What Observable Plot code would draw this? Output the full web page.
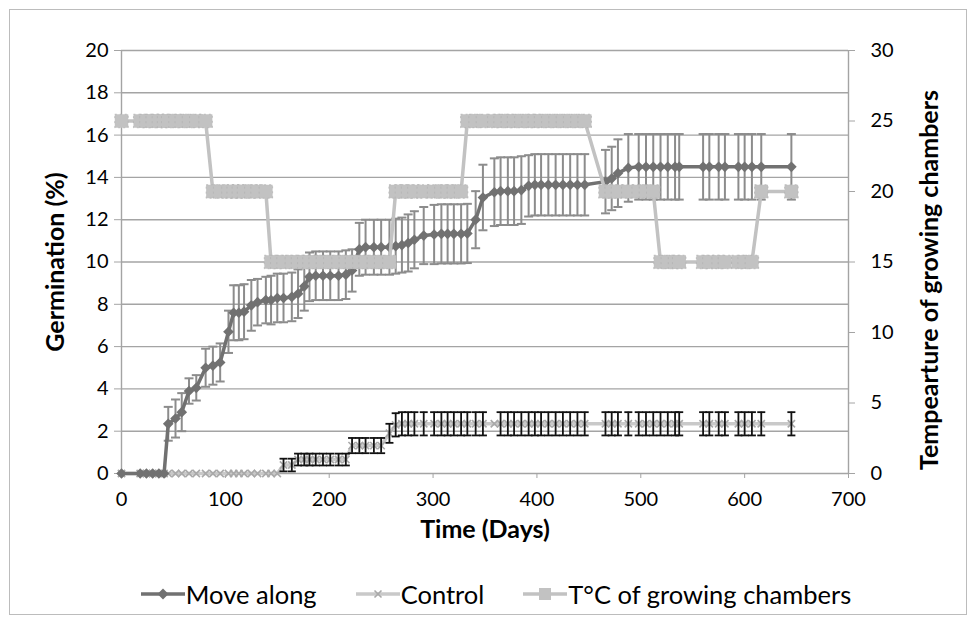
<!DOCTYPE html>
<html>
<head>
<meta charset="utf-8">
<script src="https://cdn.jsdelivr.net/npm/d3@7"></script>
<script src="https://cdn.jsdelivr.net/npm/@observablehq/plot@0.6"></script>
<style>
  html, body { margin: 0; padding: 0; background: #ffffff; }
  body { width: 976px; height: 624px; position: relative; overflow: hidden; font-family: Lato, "Open Sans", sans-serif; }
  #frame { position: absolute; left: 9px; top: 9px; width: 958px; height: 606px; border: 1px solid #bcbcbc; box-sizing: border-box; }
  #chart { position: absolute; left: 0; top: 0; }
  #legend { position: absolute; left: 8px; top: 577px; width: 976px; height: 34px; display: flex; justify-content: center; align-items: center; gap: 39px; font-size: 25.5px; color: #000; }
  .item { display: flex; align-items: center; }
  .item svg { margin-right: 1px; }
</style>
</head>
<body>
<div id="frame"></div>
<div id="chart"></div>
<div id="legend"></div>
<script>
// ---- data ----
const days = [
  0, 18, 24, 30, 36, 41, 45, 52, 58, 65,
  72, 81, 88, 95, 103, 108, 113, 118, 125, 131,
  139, 144, 150, 156, 164, 170, 176, 181, 187, 194,
  201, 209, 216, 222, 229, 235, 243, 250, 258, 264,
  270, 276, 282, 291, 301, 308, 314, 320, 327, 333,
  341, 348, 359, 365, 372, 378, 385, 392, 398, 404,
  411, 418, 425, 432, 439, 446, 466, 472, 478, 488,
  498, 505, 512, 519, 526, 533, 537, 560, 566, 575,
  581, 594, 600, 607, 616, 645
];
const moveAlong = [
  0, 0, 0, 0, 0, 0, 2.35, 2.6, 2.9, 3.9,
  4.05, 5.0, 5.1, 5.25, 6.7, 7.6, 7.6, 7.65, 7.95, 8.1,
  8.2, 8.2, 8.3, 8.3, 8.35, 8.5, 8.85, 9.3, 9.35, 9.35,
  9.35, 9.35, 9.4, 9.6, 10.6, 10.7, 10.7, 10.7, 10.7, 10.75,
  10.8, 10.9, 11.05, 11.25, 11.3, 11.33, 11.33, 11.33, 11.33, 11.35,
  12.0, 13.05, 13.3, 13.35, 13.35, 13.35, 13.4, 13.6, 13.65, 13.65,
  13.65, 13.65, 13.65, 13.65, 13.65, 13.65, 13.8, 13.95, 14.2, 14.45,
  14.5, 14.5, 14.5, 14.5, 14.5, 14.5, 14.5, 14.5, 14.5, 14.5,
  14.5, 14.5, 14.5, 14.5, 14.5, 14.5
];
const moveAlongErr = [
  0, 0, 0, 0, 0, 0, 0.8, 0.9, 0.9, 0.6,
  0.6, 0.9, 0.9, 0.9, 1.0, 1.3, 1.3, 1.3, 1.2, 1.1,
  1.1, 1.15, 1.15, 1.15, 1.15, 1.15, 1.15, 1.15, 1.15, 1.15,
  1.15, 1.15, 1.15, 1.0, 1.25, 1.3, 1.3, 1.3, 1.3, 1.3,
  1.3, 1.35, 1.35, 1.35, 1.4, 1.4, 1.4, 1.4, 1.4, 1.4,
  1.35, 1.55, 1.6, 1.6, 1.6, 1.6, 1.6, 1.45, 1.45, 1.45,
  1.45, 1.45, 1.45, 1.45, 1.45, 1.45, 1.5, 1.5, 1.6, 1.6,
  1.55, 1.55, 1.55, 1.55, 1.55, 1.55, 1.55, 1.55, 1.55, 1.55,
  1.55, 1.55, 1.55, 1.55, 1.55, 1.55
];
const control = [
  0, 0, 0, 0, 0, 0, 0, 0, 0, 0,
  0, 0, 0, 0, 0, 0, 0, 0, 0, 0,
  0, 0, 0, 0.4, 0.4, 0.66, 0.66, 0.66, 0.66, 0.66,
  0.66, 0.66, 0.66, 1.32, 1.32, 1.32, 1.32, 1.32, 1.9, 2.3,
  2.35, 2.35, 2.35, 2.35, 2.35, 2.35, 2.35, 2.35, 2.35, 2.35,
  2.35, 2.35, 2.35, 2.35, 2.35, 2.35, 2.35, 2.35, 2.35, 2.35,
  2.35, 2.35, 2.35, 2.35, 2.35, 2.35, 2.35, 2.35, 2.35, 2.35,
  2.35, 2.35, 2.35, 2.35, 2.35, 2.35, 2.35, 2.35, 2.35, 2.35,
  2.35, 2.35, 2.35, 2.35, 2.35, 2.35
];
const controlErr = [
  0, 0, 0, 0, 0, 0, 0, 0, 0, 0,
  0, 0, 0, 0, 0, 0, 0, 0, 0, 0,
  0, 0, 0, 0.3, 0.3, 0.28, 0.28, 0.28, 0.28, 0.28,
  0.28, 0.28, 0.28, 0.36, 0.36, 0.36, 0.36, 0.36, 0.45, 0.55,
  0.55, 0.55, 0.55, 0.55, 0.55, 0.55, 0.55, 0.55, 0.55, 0.55,
  0.55, 0.55, 0, 0.55, 0.55, 0.55, 0.55, 0.55, 0.55, 0.55,
  0.55, 0.55, 0.55, 0.55, 0.55, 0.55, 0.55, 0.55, 0.55, 0.55,
  0.55, 0.55, 0.55, 0.55, 0.55, 0.55, 0.55, 0.55, 0.55, 0.55,
  0.55, 0.55, 0.55, 0.55, 0.55, 0.55
];
const temperature = [
  25, 25, 25, 25, 25, 25, 25, 25, 25, 25,
  25, 25, 20, 20, 20, 20, 20, 20, 20, 20,
  20, 15, 15, 15, 15, 15, 15, 15, 15, 15,
  15, 15, 15, 15, 15, 15, 15, 15, 15, 20,
  20, 20, 20, 20, 20, 20, 20, 20, 20, 25,
  25, 25, 25, 25, 25, 25, 25, 25, 25, 25,
  25, 25, 25, 25, 25, 25, 20, 20, 20, 20,
  20, 20, 20, 15, 15, 15, 15, 15, 15, 15,
  15, 15, 15, 15, 20, 20
];
const xTicks = [0, 100, 200, 300, 400, 500, 600, 700];
const germTicks = [0, 2, 4, 6, 8, 10, 12, 14, 16, 18, 20];
const tempTicks = [0, 5, 10, 15, 20, 25, 30];
const germMax = 20, tempMax = 30;
const seriesNames = ["Move along", "Control", "T°C of growing chambers"];
const xTitle = "Time (Days)";
const yTitle = "Germination (%)";
const y2Title = "Tempearture of growing chambers";

// ---- table built from the arrays ----
const rows = days.map((d, i) => ({
  day: d, move: moveAlong[i], moveErr: moveAlongErr[i],
  ctrl: control[i], ctrlErr: controlErr[i], temp: temperature[i]
}));
const t2y = t => t * germMax / tempMax; // secondary axis mapped onto primary scale

const gridColor = "#a4a4a4";
const moveColor = "#717171";
const moveErrColor = "#8c8c8c";
const ctrlLine = "#c9c9c9";
const ctrlMark = "#a9a9a9";
const tempColor = "#c2c2c2";
const font = "Lato, 'Open Sans', sans-serif";

const cap = { draw(ctx, size) { const w = Math.sqrt(size / Math.PI); ctx.moveTo(-w, 0); ctx.lineTo(w, 0); } };

const chart = Plot.plot({
  width: 976,
  height: 565,
  marginLeft: 121,
  marginRight: 128,
  marginTop: 50,
  marginBottom: 92,
  x: { domain: [0, 700] },
  y: { domain: [0, 20] },
  style: { fontFamily: font, fontSize: "20px", color: "#000", background: "transparent" },
  marks: [
    Plot.gridY(germTicks, { stroke: gridColor, strokeOpacity: 1, strokeWidth: 1.4 }),
    Plot.ruleX([0, 700], { stroke: gridColor, strokeWidth: 1.4 }),
    Plot.axisX(xTicks, { anchor: "bottom", tickSize: 5, tickPadding: 13, stroke: gridColor, fill: "#000", fontSize: 20, label: null }),
    Plot.axisY(germTicks, { anchor: "left", tickSize: 7, tickPadding: 6, stroke: gridColor, fill: "#000", fontSize: 20, label: null }),
    Plot.axisY(tempTicks.map(t2y), { anchor: "right", tickSize: 6, tickPadding: 16, stroke: gridColor, fill: "#000", fontSize: 20, label: null, tickFormat: d => Math.round(d * tempMax / germMax) }),
    // Move along: error bars
    Plot.ruleX(rows.filter(d => d.moveErr > 0), { x: "day", y1: d => d.move - d.moveErr, y2: d => d.move + d.moveErr, stroke: moveErrColor, strokeWidth: 2 }),
    Plot.dot(rows.filter(d => d.moveErr > 0), { x: "day", y: d => d.move + d.moveErr, symbol: cap, r: 4.5, stroke: moveErrColor, strokeWidth: 2, fill: "none" }),
    Plot.dot(rows.filter(d => d.moveErr > 0), { x: "day", y: d => d.move - d.moveErr, symbol: cap, r: 4.5, stroke: moveErrColor, strokeWidth: 2, fill: "none" }),
    // Control
    Plot.line(rows, { x: "day", y: "ctrl", stroke: ctrlLine, strokeWidth: 3.5 }),
    Plot.dot(rows, { x: "day", y: "ctrl", symbol: "times", r: 3.4, stroke: ctrlMark, strokeWidth: 1.6, fill: "none" }),
    // Move along line and markers
    Plot.line(rows, { x: "day", y: "move", stroke: moveColor, strokeWidth: 3.5 }),
    Plot.dot(rows, { x: "day", y: "move", symbol: "diamond2", r: 4.8, fill: moveColor, stroke: "none" }),
    // Control error bars (black)
    Plot.ruleX(rows.filter(d => d.ctrlErr > 0), { x: "day", y1: d => d.ctrl - d.ctrlErr, y2: d => d.ctrl + d.ctrlErr, stroke: "#111", strokeWidth: 1.8 }),
    Plot.dot(rows.filter(d => d.ctrlErr > 0), { x: "day", y: d => d.ctrl + d.ctrlErr, symbol: cap, r: 4, stroke: "#111", strokeWidth: 1.8, fill: "none" }),
    Plot.dot(rows.filter(d => d.ctrlErr > 0), { x: "day", y: d => d.ctrl - d.ctrlErr, symbol: cap, r: 4, stroke: "#111", strokeWidth: 1.8, fill: "none" }),
    // Temperature (secondary axis)
    Plot.line(rows, { x: "day", y: d => t2y(d.temp), stroke: tempColor, strokeWidth: 3.5 }),
    Plot.dot(rows, { x: "day", y: d => t2y(d.temp), symbol: "square", r: 7.6, fill: tempColor, stroke: "#b4b4b4", strokeWidth: 0.8, strokeDasharray: "2,3" }),
    // Axis titles
    Plot.text([xTitle], { text: d => d, frameAnchor: "bottom", textAnchor: "middle", dy: 64, fontWeight: "bold", fontSize: 25, fill: "#000" }),
    Plot.text([yTitle], { text: d => d, frameAnchor: "left", textAnchor: "middle", dx: -66, rotate: -90, fontWeight: "bold", fontSize: 25, fill: "#000" }),
    Plot.text([y2Title], { text: d => d, frameAnchor: "right", textAnchor: "middle", dx: 81, dy: 18, rotate: -90, fontWeight: "bold", fontSize: 25, fill: "#000" })
  ]
});
document.getElementById("chart").appendChild(chart);

// ---- legend ----
const legend = document.getElementById("legend");
const swatches = [
  `<svg width="44" height="20"><line x1="0" y1="10" x2="44" y2="10" stroke="${moveColor}" stroke-width="3.5"/><path d="M22,4.5L27.5,10L22,15.5L16.5,10Z" fill="${moveColor}"/></svg>`,
  `<svg width="44" height="20"><line x1="0" y1="10" x2="44" y2="10" stroke="${ctrlLine}" stroke-width="3.5"/><path d="M18.5,6.5L25.5,13.5M25.5,6.5L18.5,13.5" stroke="${ctrlMark}" stroke-width="1.6"/></svg>`,
  `<svg width="44" height="20"><line x1="0" y1="10" x2="44" y2="10" stroke="${tempColor}" stroke-width="3.5"/><rect x="16" y="4" width="12" height="12" fill="${tempColor}"/></svg>`
];
seriesNames.forEach((name, i) => {
  const el = document.createElement("div");
  el.className = "item";
  el.innerHTML = swatches[i] + `<span>${name}</span>`;
  legend.appendChild(el);
});
</script>
</body>
</html>
